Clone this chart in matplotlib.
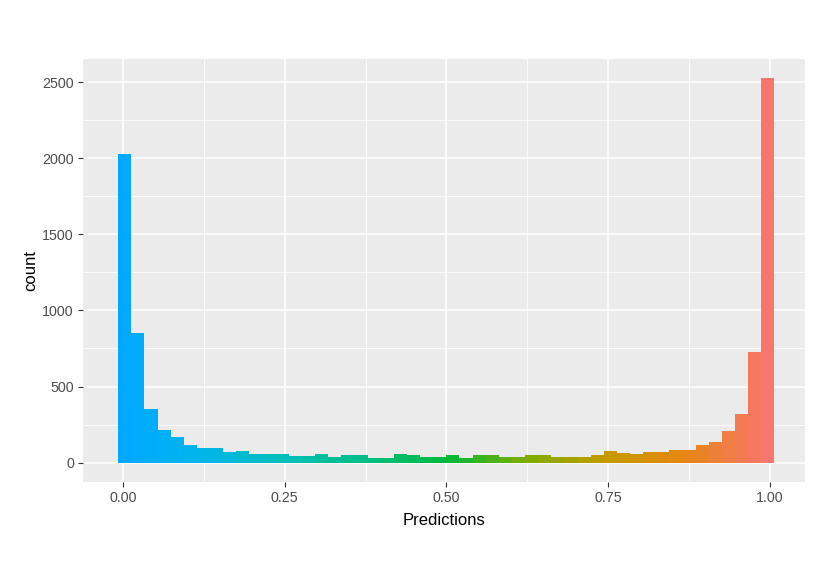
import numpy as np
import matplotlib
matplotlib.use("Agg")
import matplotlib.pyplot as plt
from matplotlib.colors import LinearSegmentedColormap
from matplotlib.ticker import MultipleLocator, FormatStrFormatter

# histogram counts (50 bins over the prediction range)
counts = [2025, 855, 353, 215, 171, 116, 94, 94, 70, 77,
          55, 55, 55, 47, 47, 55, 39, 48, 48, 34,
          34, 57, 48, 37, 37, 48, 33, 48, 48, 38,
          38, 48, 48, 37, 37, 37, 50, 80, 61, 58,
          72, 72, 85, 85, 118, 138, 206, 320, 725, 2525]
pred_min, pred_max = 0.0025, 0.9975
x_ticks = [0.0, 0.25, 0.5, 0.75, 1.0]
y_ticks = [0, 500, 1000, 1500, 2000, 2500]

# ggplot-like bins: centres at min and max of the data
nbins = len(counts)
width = (pred_max - pred_min) / (nbins - 1)
centers = pred_min + width * np.arange(nbins)

cmap = LinearSegmentedColormap.from_list("hue", [
    (0.00, "#00A9FF"), (0.12, "#00B6EA"), (0.25, "#00BFB8"),
    (0.38, "#00BE80"), (0.50, "#00B93A"), (0.62, "#7CAE00"),
    (0.75, "#C49A00"), (0.87, "#E68613"), (1.00, "#F8766D")])

fig = plt.figure(figsize=(8.3, 5.87), dpi=100)
ax = fig.add_axes([0.1, 0.179, 0.87, 0.7205])
ax.set_facecolor("#EBEBEB")

norm = (centers - centers.min()) / (centers.max() - centers.min())
ax.bar(centers, counts, width=width, color=cmap(norm), linewidth=0, zorder=3)

ax.set_xlim(-0.062, 1.055)
ax.set_ylim(-0.05 * max(counts), 1.05 * max(counts))

ax.set_xticks(x_ticks)
ax.set_yticks(y_ticks)
ax.xaxis.set_minor_locator(MultipleLocator(0.125))
ax.yaxis.set_minor_locator(MultipleLocator(250))
ax.xaxis.set_major_formatter(FormatStrFormatter("%.2f"))

ax.grid(which="major", color="white", linewidth=1.1, zorder=0)
ax.grid(which="minor", color="white", linewidth=0.55, zorder=0)
ax.set_axisbelow(True)
for s in ax.spines.values():
    s.set_visible(False)

ax.tick_params(which="major", length=3.5, width=0.8, color="#333333",
               labelcolor="#4D4D4D", labelsize=10.3, pad=3)
ax.tick_params(which="minor", length=0)
for lab in ax.get_xticklabels() + ax.get_yticklabels():
    lab.set_family("Liberation Sans")

ax.set_xlabel("Predictions", fontsize=12, family="Liberation Sans", labelpad=6)
ax.set_ylabel("count", fontsize=12, family="Liberation Sans", labelpad=3)

fig.savefig("out.png", dpi=100, facecolor="white")
